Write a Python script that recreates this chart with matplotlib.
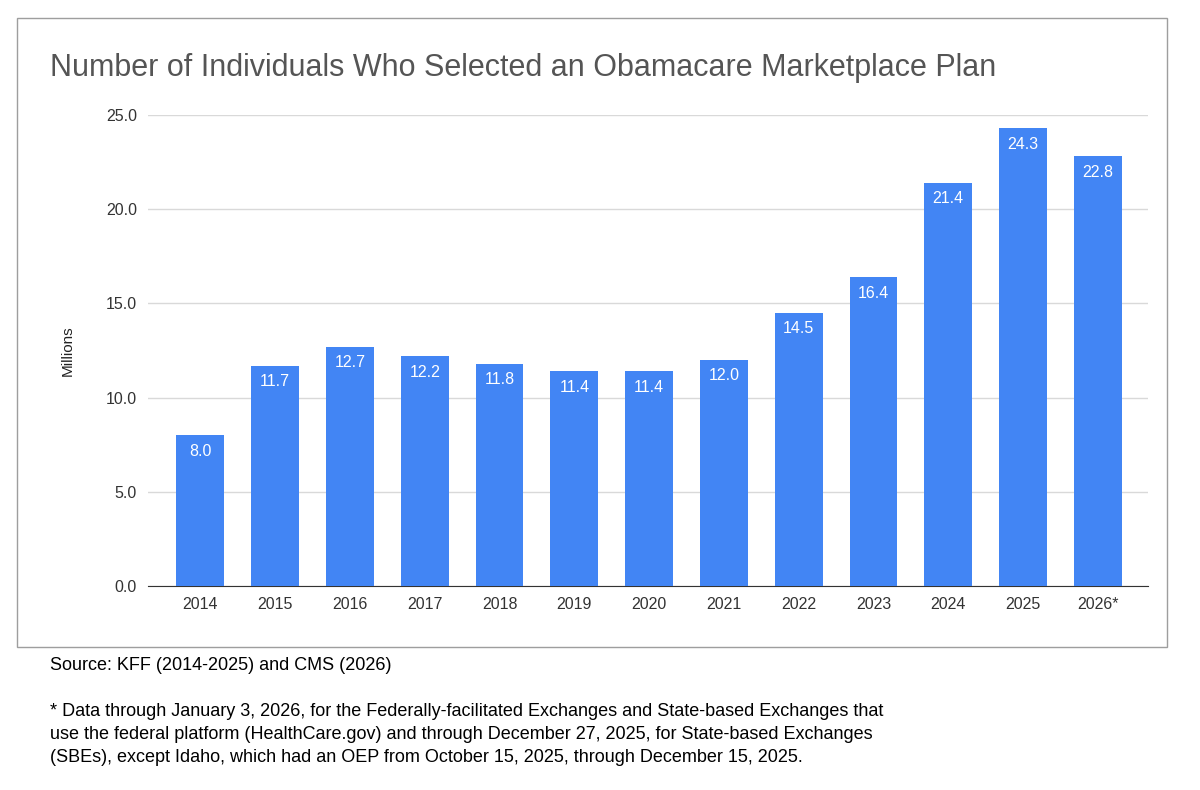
import matplotlib.pyplot as plt
from matplotlib.patches import Rectangle

plt.rcParams['font.family'] = ['Liberation Sans', 'DejaVu Sans']

years = ['2014', '2015', '2016', '2017', '2018', '2019', '2020',
         '2021', '2022', '2023', '2024', '2025', '2026*']
enrollees = [8.0, 11.7, 12.7, 12.2, 11.8, 11.4, 11.4, 12.0, 14.5, 16.4, 21.4, 24.3, 22.8]
y_ticks = [0, 5, 10, 15, 20, 25]

fig = plt.figure(figsize=(12, 7.9), dpi=100)
fig.patches.append(Rectangle((17 / 1200, 1 - 647 / 790), 1150 / 1200, 629 / 790,
                             transform=fig.transFigure, fill=False,
                             edgecolor='#9e9e9e', linewidth=1))

ax = fig.add_axes([148 / 1200, 1 - 586 / 790, 1000 / 1200, 471 / 790])
x = range(len(years))
bars = ax.bar(x, enrollees, width=0.64, color='#4285F4', zorder=3)
for i, v in enumerate(enrollees):
    ax.text(i, v - 0.45, f'{v:.1f}', ha='center', va='top', color='white', fontsize=11.5, zorder=4)

ax.set_xlim(-0.7, 12.67)
ax.set_ylim(0, 25)
ax.set_yticks(y_ticks)
ax.set_yticklabels([f'{t:.1f}' for t in y_ticks], fontsize=11.5, color='#333333')
ax.set_xticks(list(x))
ax.set_xticklabels(years, fontsize=11.5, color='#333333')
ax.tick_params(length=0, pad=8)
ax.grid(axis='y', color='#d9d9d9', linewidth=1, zorder=0)
for s in ['top', 'right', 'left']:
    ax.spines[s].set_visible(False)
ax.spines['bottom'].set_color('#333333')
ax.set_ylabel('Millions', fontsize=11, color='#222222', labelpad=22)

fig.text(50 / 1200, 1 - 68 / 790, 'Number of Individuals Who Selected an Obamacare Marketplace Plan',
         fontsize=22, color='#555555', va='center', ha='left')

fig.text(50 / 1200, 1 - 666 / 790, 'Source: KFF (2014-2025) and CMS (2026)', fontsize=13, va='center')
fig.text(50 / 1200, 1 - 703 / 790,
         '* Data through January 3, 2026, for the Federally-facilitated Exchanges and State-based Exchanges that\n'
         'use the federal platform (HealthCare.gov) and through December 27, 2025, for State-based Exchanges\n'
         '(SBEs), except Idaho, which had an OEP from October 15, 2025, through December 15, 2025.',
         fontsize=13, va='top', linespacing=1.45)

fig.savefig('out.png', dpi=100)
